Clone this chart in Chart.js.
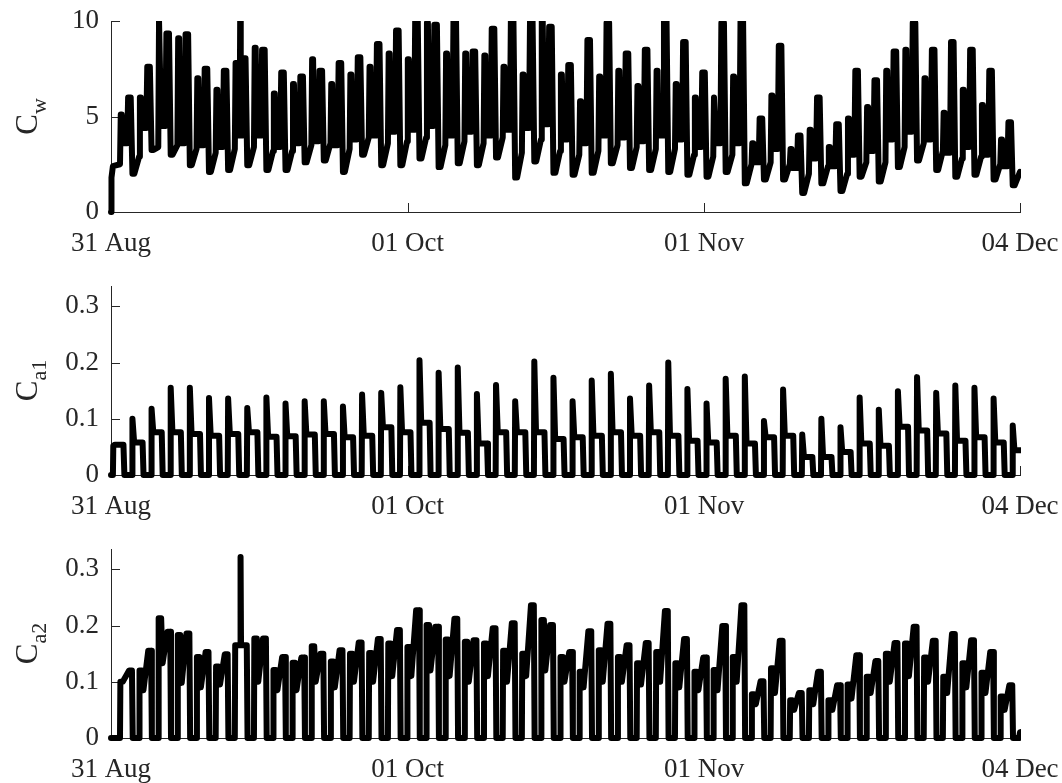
<!DOCTYPE html>
<html><head><meta charset="utf-8">
<script src="https://cdn.jsdelivr.net/npm/chart.js@4/dist/chart.umd.min.js"></script>
<style>
html,body{margin:0;padding:0;background:#fff;}
#wrap{position:relative;width:1062px;height:783px;overflow:hidden;}
canvas{position:absolute;left:0;top:0;}
</style></head><body><div id="wrap">
<canvas id="c1" width="1062" height="783"></canvas>
<canvas id="c2" width="1062" height="783"></canvas>
<canvas id="c3" width="1062" height="783"></canvas>
</div>
<script>
// ---- data ----
const tickDays = [0, 31, 62, 95];
const tickLabels = ['31 Aug', '01 Oct', '01 Nov', '04 Dec'];
const cwTicks = [0, 5, 10];
const aTicks = [0, 0.1, 0.2, 0.3];

// cycle timing (days from 31 Aug)
const cycleDays = 2;
const cwRise0 = 0.94;   // first rise of C_w / C_a2
const a1Spike0 = 0.2;   // first spike of C_a1

// C_w per 2-day cycle: level before rise, first peak, middle dip, second peak, trough after fall
const cwStart = [0, 1.8, 2.4];
const cwPre = [2.5,2.9,3.4,3.5,3.3,3.1,3.3,3.4,3.2,3.2, 3.5,3.6,3.3,3.9,3.6,3.7,3.9,3.5,3.7,3.6, 3.9,3.1,3.8,3.2,3.0,3.2,3.5,3.4,3.3,3.3, 3.0,2.9,3.0,2.5,2.6,2.5,2.0,2.4,2.0,2.6, 2.6,3.4,3.6,3.2,2.8,2.9,2.5];
const cwP1 = [5.1,6.0,10.0,9.1,7.0,6.4,7.8,8.6,6.2,6.7, 8.0,6.7,7.2,7.6,8.3,8.0,9.9,8.3,8.3,8.2, 7.6,7.2,10.0,7.2,5.8,7.1,7.4,6.6,7.4,6.7, 6.0,6.0,7.1,3.6,6.1,3.3,4.3,3.4,4.9,5.5, 7.4,8.5,7.0,5.2,6.4,5.6,3.8];
const cwMid = [3.6,4.4,4.5,3.6,3.5,3.4,4.0,4.0,3.4,3.6, 3.7,3.5,3.8,4.0,4.2,4.3,4.5,4.0,4.2,4.0, 4.3,4.4,4.6,3.8,3.6,4.0,3.9,3.7,4.0,3.8, 3.4,3.6,3.6,2.6,3.3,2.3,2.8,2.4,3.0,3.2, 3.8,4.2,3.8,3.1,3.4,3.0,2.4];
const cwP2 = [6.0,7.6,9.35,9.3,7.5,7.4,8.05,8.5,7.3,7.1, 7.4,7.8,8.1,8.8,9.5,10.0,9.8,10.0,8.4,9.6, 10.0,10.0,9.7,7.7,9.0,9.9,8.3,8.5,10.0,8.9, 7.3,9.9,10.0,4.9,8.7,4.0,6.0,4.6,7.4,6.9, 8.4,9.9,8.5,8.9,8.5,7.4,4.7];
const cwLow = [2.0,3.25,3.0,2.45,2.1,2.2,2.45,2.2,2.2,2.6, 2.7,2.1,3.0,2.45,2.45,2.8,2.35,2.55,2.45,2.85, 1.8,2.65,2.05,1.95,2.05,2.55,2.3,2.2,2.1,1.95, 1.85,2.1,1.5,1.7,1.7,1.0,1.5,1.1,1.85,1.6, 2.35,2.7,2.2,1.85,1.95,1.7,1.4];
const cwSpike = {6: 10.0};
const cwEnd = 2.1;

// C_a1 per cycle: spike peak, following plateau
const a1Peak = [0.052,0.100,0.118,0.155,0.155,0.137,0.136,0.119,0.138,0.127, 0.131,0.131,0.122,0.143,0.146,0.156,0.204,0.182,0.191,0.144, 0.160,0.131,0.202,0.173,0.131,0.168,0.180,0.136,0.159,0.200, 0.153,0.127,0.171,0.175,0.096,0.152,0.072,0.100,0.085,0.138, 0.116,0.149,0.174,0.146,0.159,0.155,0.136,0.088];
const a1Plat = [0.054,0.058,0.076,0.076,0.073,0.070,0.073,0.076,0.068,0.069, 0.072,0.073,0.067,0.070,0.085,0.076,0.093,0.082,0.075,0.056, 0.076,0.076,0.076,0.064,0.067,0.070,0.076,0.070,0.076,0.070, 0.061,0.058,0.070,0.056,0.067,0.070,0.032,0.032,0.041,0.056, 0.052,0.086,0.079,0.074,0.061,0.067,0.058,0.044];

// C_a2 per cycle: level after rise, middle dip, level before fall
const a2First = [0.100,0.120,0.213,0.183,0.144,0.127,0.165,0.177,0.121,0.134, 0.163,0.136,0.150,0.151,0.168,0.162,0.201,0.175,0.171,0.168, 0.155,0.150,0.210,0.144,0.118,0.156,0.144,0.133,0.153,0.133, 0.118,0.121,0.144,0.078,0.124,0.067,0.085,0.067,0.095,0.109, 0.150,0.168,0.143,0.109,0.133,0.116,0.074];
const a2Mid = [0.105,0.085,0.133,0.098,0.090,0.095,0.165,0.100,0.085,0.085, 0.100,0.090,0.100,0.100,0.110,0.110,0.120,0.110,0.100,0.110, 0.100,0.110,0.120,0.100,0.090,0.100,0.100,0.095,0.100,0.090, 0.085,0.085,0.100,0.060,0.080,0.050,0.060,0.050,0.070,0.080, 0.100,0.110,0.100,0.080,0.090,0.080,0.050];
const a2Last = [0.120,0.155,0.189,0.186,0.153,0.149,0.165,0.177,0.144,0.143, 0.150,0.156,0.170,0.176,0.192,0.227,0.198,0.212,0.174,0.195, 0.204,0.236,0.201,0.153,0.190,0.203,0.165,0.169,0.226,0.176, 0.143,0.199,0.236,0.101,0.173,0.080,0.118,0.094,0.147,0.137, 0.169,0.198,0.173,0.185,0.174,0.153,0.094];
const a2Spike = {6: 0.322};
const a2End = 0.01;

// ---- build the point sequences ----
function buildCw() {
  const p = [{x:0, y:cwStart[0]}, {x:0.05, y:cwStart[1]}, {x:0.2, y:cwStart[2]}];
  for (let k = 0; k < cwP1.length; k++) {
    const r = cwRise0 + cycleDays * k;
    p.push({x:r, y:cwPre[k]}, {x:r+0.08, y:cwP1[k]}, {x:r+0.18, y:cwP1[k]}, {x:r+0.3, y:cwMid[k]});
    if (cwSpike[k] !== undefined) {
      p.push({x:r+0.5, y:cwMid[k]}, {x:r+0.56, y:cwSpike[k]}, {x:r+0.62, y:cwMid[k]});
    }
    p.push({x:r+0.75, y:cwMid[k]}, {x:r+0.85, y:cwP2[k]}, {x:r+1.12, y:cwP2[k]}, {x:r+1.3, y:cwLow[k]}, {x:r+1.5, y:cwLow[k]});
  }
  p.push({x:95, y:cwEnd});
  return p;
}
function buildA1() {
  const p = [{x:0, y:0}];
  for (let k = 0; k < a1Peak.length; k++) {
    const s = a1Spike0 + cycleDays * k;
    p.push({x:s, y:0}, {x:s+0.04, y:a1Peak[k]}, {x:s+0.22, y:a1Plat[k]}, {x:s+1.1, y:a1Plat[k]}, {x:s+1.2, y:0});
  }
  return p;
}
function buildA2() {
  const p = [{x:0, y:0}];
  for (let k = 0; k < a2First.length; k++) {
    const r = cwRise0 + cycleDays * k;
    p.push({x:r, y:0}, {x:r+0.04, y:a2First[k]}, {x:r+0.3, y:a2First[k]}, {x:r+0.45, y:a2Mid[k]});
    if (a2Spike[k] !== undefined) {
      p.push({x:r+0.55, y:a2Mid[k]}, {x:r+0.6, y:a2Spike[k]}, {x:r+0.65, y:a2Mid[k]});
    }
    p.push({x:r+0.95, y:a2Last[k]}, {x:r+1.25, y:a2Last[k]}, {x:r+1.33, y:0});
  }
  p.push({x:94.9, y:0}, {x:95, y:a2End});
  return p;
}

// ---- styling ----
const FONT = "'Liberation Serif', 'Times New Roman', serif";
const TXT = '#262626';
const AX = '#262626';
const W = 1062, H = 783, XH = 50, RIGHT = 1020, LEFT = 111;

const innerTicks = {
  id: 'innerTicks',
  beforeDatasetsDraw(chart) {
    const {ctx, chartArea: a, scales: {x, y}} = chart;
    ctx.save();
    ctx.strokeStyle = AX; ctx.lineWidth = 1;
    ctx.beginPath();
    x.ticks.forEach(t => { const px = Math.round(x.getPixelForValue(t.value)) + 0.5; ctx.moveTo(px, a.bottom); ctx.lineTo(px, a.bottom - 9); });
    y.ticks.forEach(t => { const py = Math.round(y.getPixelForValue(t.value)) + 0.5; ctx.moveTo(a.left, py); ctx.lineTo(a.left + 9, py); });
    ctx.stroke();
    ctx.restore();
  }
};
const yLabel = {
  id: 'ylab',
  afterDraw(chart, args, o) {
    const ctx = chart.ctx;
    ctx.save();
    ctx.translate(o.x, o.cy);
    ctx.rotate(-Math.PI / 2);
    ctx.fillStyle = TXT;
    ctx.textBaseline = 'alphabetic';
    ctx.textAlign = 'left';
    const fMain = o.size + 'px ' + FONT, fSub = o.subSize + 'px ' + FONT;
    ctx.font = fMain; const w1 = ctx.measureText(o.main).width;
    ctx.font = fSub; const w2 = ctx.measureText(o.sub).width;
    const x0 = -(w1 + w2) / 2;
    ctx.font = fMain; ctx.fillText(o.main, x0, 0);
    ctx.font = fSub; ctx.fillText(o.sub, x0 + w1, o.subDrop);
    ctx.restore();
  }
};

function makeChart(id, points, yMax, yTicks, top, bottom, sub) {
  return new Chart(document.getElementById(id), {
    type: 'line',
    data: { datasets: [{ data: points, borderColor: '#000', borderWidth: 6, pointRadius: 0, tension: 0,
      borderJoinStyle: 'round', borderCapStyle: 'round', fill: false, clip: {left: 3, right: 1, top: 0, bottom: 3} }] },
    options: {
      responsive: false, animation: false, events: [],
      layout: { padding: { top: top, bottom: H - bottom - XH, left: 0, right: W - RIGHT } },
      plugins: { legend: { display: false }, tooltip: { enabled: false },
        ylab: { main: 'C', sub: sub, x: 37, cy: (top + bottom) / 2, size: 31, subSize: 22, subDrop: 9 } },
      scales: {
        x: { type: 'linear', min: 0, max: 95,
          afterBuildTicks: s => { s.ticks = tickDays.map(v => ({ value: v })); },
          afterFit: s => { s.height = XH; s.paddingLeft = 0; s.paddingRight = 0; },
          ticks: { callback: v => tickLabels[tickDays.indexOf(v)], color: TXT, font: { family: FONT, size: 27 },
            padding: 16, maxRotation: 0, autoSkip: false },
          grid: { display: true, drawOnChartArea: false, drawTicks: false },
          border: { display: true, color: AX, width: 1 } },
        y: { min: 0, max: yMax,
          afterBuildTicks: s => { s.ticks = yTicks.map(v => ({ value: v })); },
          afterFit: s => { s.width = LEFT; s.paddingTop = 0; s.paddingBottom = 0; },
          ticks: { color: TXT, font: { family: FONT, size: 27 }, padding: 12 },
          grid: { display: true, drawOnChartArea: false, drawTicks: false },
          border: { display: true, color: AX, width: 1 } }
      }
    },
    plugins: [innerTicks, yLabel]
  });
}

makeChart('c1', buildCw(), 10, cwTicks, 21, 212, 'w');
makeChart('c2', buildA1(), 0.336, aTicks, 286, 475, 'a1');
makeChart('c3', buildA2(), 0.336, aTicks, 549, 738, 'a2');
</script>
</body></html>
